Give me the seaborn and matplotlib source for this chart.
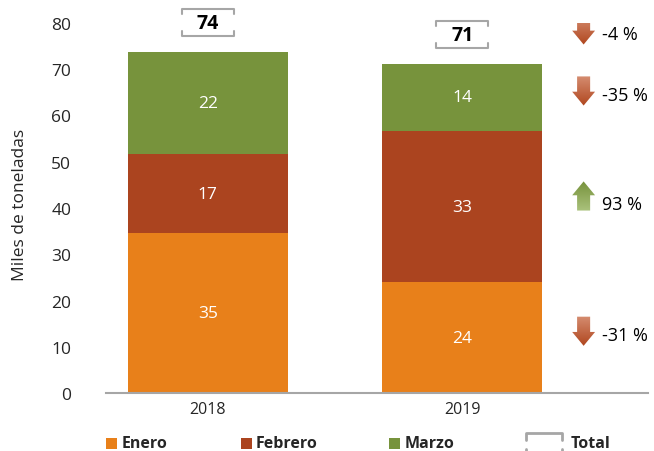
import numpy as np
import pandas as pd
import matplotlib
matplotlib.use('Agg')
import matplotlib.pyplot as plt
from matplotlib.patches import Polygon, Rectangle
from matplotlib.lines import Line2D
from matplotlib.colors import LinearSegmentedColormap
import seaborn as sns

# datos (miles de toneladas)
anios = ['2018', '2019']
enero = [34.6, 23.9]
febrero = [17.0, 32.8]
marzo = [22.1, 14.4]
series = ['Enero', 'Febrero', 'Marzo']
colores = ['#E8801A', '#AB441F', '#77933C']
# variacion 2019 vs 2018 (%)
var_series = [-31, 93, -35]   # Enero, Febrero, Marzo
var_total = -4

sns.set_style('white')
plt.rcParams['font.family'] = ['Open Sans', 'DejaVu Sans']

df = pd.DataFrame({'anio': anios, 'Enero': enero, 'Febrero': febrero, 'Marzo': marzo})
acum = df[series].cumsum(axis=1)
df['total'] = df[series].sum(axis=1)

W, H = 654, 452
fig = plt.figure(figsize=(W / 100, H / 100), dpi=100)
ax = fig.add_axes([106 / W, 58 / H, 542 / W, 370 / H])

# barras apiladas: se dibuja el acumulado de atras hacia adelante
for s, c in reversed(list(zip(series, colores))):
    sns.barplot(x=df['anio'], y=acum[s], color=c, saturation=1, width=0.63,
                errorbar=None, linewidth=0, ax=ax)

# etiquetas dentro de las barras
for i in range(len(df)):
    base = 0
    for s in series:
        v = df.loc[i, s]
        ax.text(i, base + v / 2, f'{v:.0f}', color='white', ha='center', va='center', fontsize=12.5)
        base += v


def corchete(dest, xc, yc, w, h, t, transform, **kw):
    dest.add_artist(Line2D([xc - w, xc - w, xc + w, xc + w], [yc + h - t, yc + h, yc + h, yc + h - t],
                           transform=transform, clip_on=False, **kw))
    dest.add_artist(Line2D([xc - w, xc - w, xc + w, xc + w], [yc - h + t, yc - h, yc - h, yc - h + t],
                           transform=transform, clip_on=False, **kw))


# totales con corchete
for i in range(len(df)):
    tot = df.loc[i, 'total']
    yc = tot + 6.4
    corchete(ax, i, yc, 0.102, 3.0, 1.2, ax.transData, color='#A6A6A6', lw=1.5)
    ax.text(i, yc, f'{tot:.0f}', ha='center', va='center', fontsize=14, fontweight='bold', color='black')


def flecha(ax, xc, yc, sube, c_arriba, c_abajo):
    hw, sw, alto, cab = 0.045, 0.0256, 6.3, 3.0
    y0, y1 = yc - alto / 2, yc + alto / 2
    if sube:
        verts = [(xc - sw, y0), (xc + sw, y0), (xc + sw, y1 - cab), (xc + hw, y1 - cab),
                 (xc, y1), (xc - hw, y1 - cab), (xc - sw, y1 - cab)]
    else:
        verts = [(xc - sw, y1), (xc + sw, y1), (xc + sw, y0 + cab), (xc + hw, y0 + cab),
                 (xc, y0), (xc - hw, y0 + cab), (xc - sw, y0 + cab)]
    poly = Polygon(verts, closed=True, facecolor='none', edgecolor='none')
    ax.add_patch(poly)
    cmap = LinearSegmentedColormap.from_list('g', [c_arriba, c_abajo])
    im = ax.imshow(np.linspace(0, 1, 60).reshape(-1, 1), cmap=cmap, aspect='auto',
                   extent=[xc - hw, xc + hw, y0, y1], origin='upper', zorder=3)
    im.set_clip_path(poly)


# variaciones a la derecha
x_flecha, x_texto = 1.477, 1.55
ult = df.iloc[-1]
base = 0
posiciones = []
for s in series:
    posiciones.append(base + ult[s] / 2 + 0.5)
    base += ult[s]
posiciones.append(ult['total'] + 6.5)
for y, p in zip(posiciones, var_series + [var_total]):
    if p >= 0:
        flecha(ax, x_flecha, y + 1.8, True, '#77923C', '#AAC27C')
    else:
        flecha(ax, x_flecha, y + 0.9, False, '#D58C70', '#B0471F')
    ax.text(x_texto, y, f'{p} %', ha='left', va='center', fontsize=13, color='black')

ax.set_xlim(-0.40, 1.73)
ax.set_ylim(0, 80)
ax.set_yticks(range(0, 81, 10))
sns.despine(ax=ax, left=True)
ax.spines['bottom'].set_color('#A6A6A6')
ax.spines['bottom'].set_linewidth(1.5)
ax.tick_params(axis='y', length=0, pad=25, labelsize=12.5)
ax.tick_params(axis='x', length=0, pad=6, labelsize=11.5)
ax.set_xlabel('')
ax.set_ylabel('Miles de toneladas', fontsize=12.5)
ax.yaxis.set_label_coords(-0.144, 0.51)

# leyenda
def fx(x):
    return x / W


def fy(y):
    return 1 - y / H


leyenda = [('Enero', 106, 122), ('Febrero', 240.5, 256), ('Marzo', 389, 405)]
for (nombre, xm, xt), c in zip(leyenda, colores):
    fig.add_artist(Rectangle((fx(xm), fy(449.5)), 11 / W, 11 / H, transform=fig.transFigure,
                             facecolor=c, edgecolor='none'))
    fig.text(fx(xt), fy(444), nombre, ha='left', va='center', fontsize=11.5, fontweight='bold')
corchete(fig, fx(544), fy(445.5), 18 / W, 11.5 / H, 7 / H, fig.transFigure, color='#A6A6A6', lw=2)
fig.text(fx(571), fy(444), 'Total', ha='left', va='center', fontsize=11.5, fontweight='bold')

fig.savefig('out.png', dpi=100)
